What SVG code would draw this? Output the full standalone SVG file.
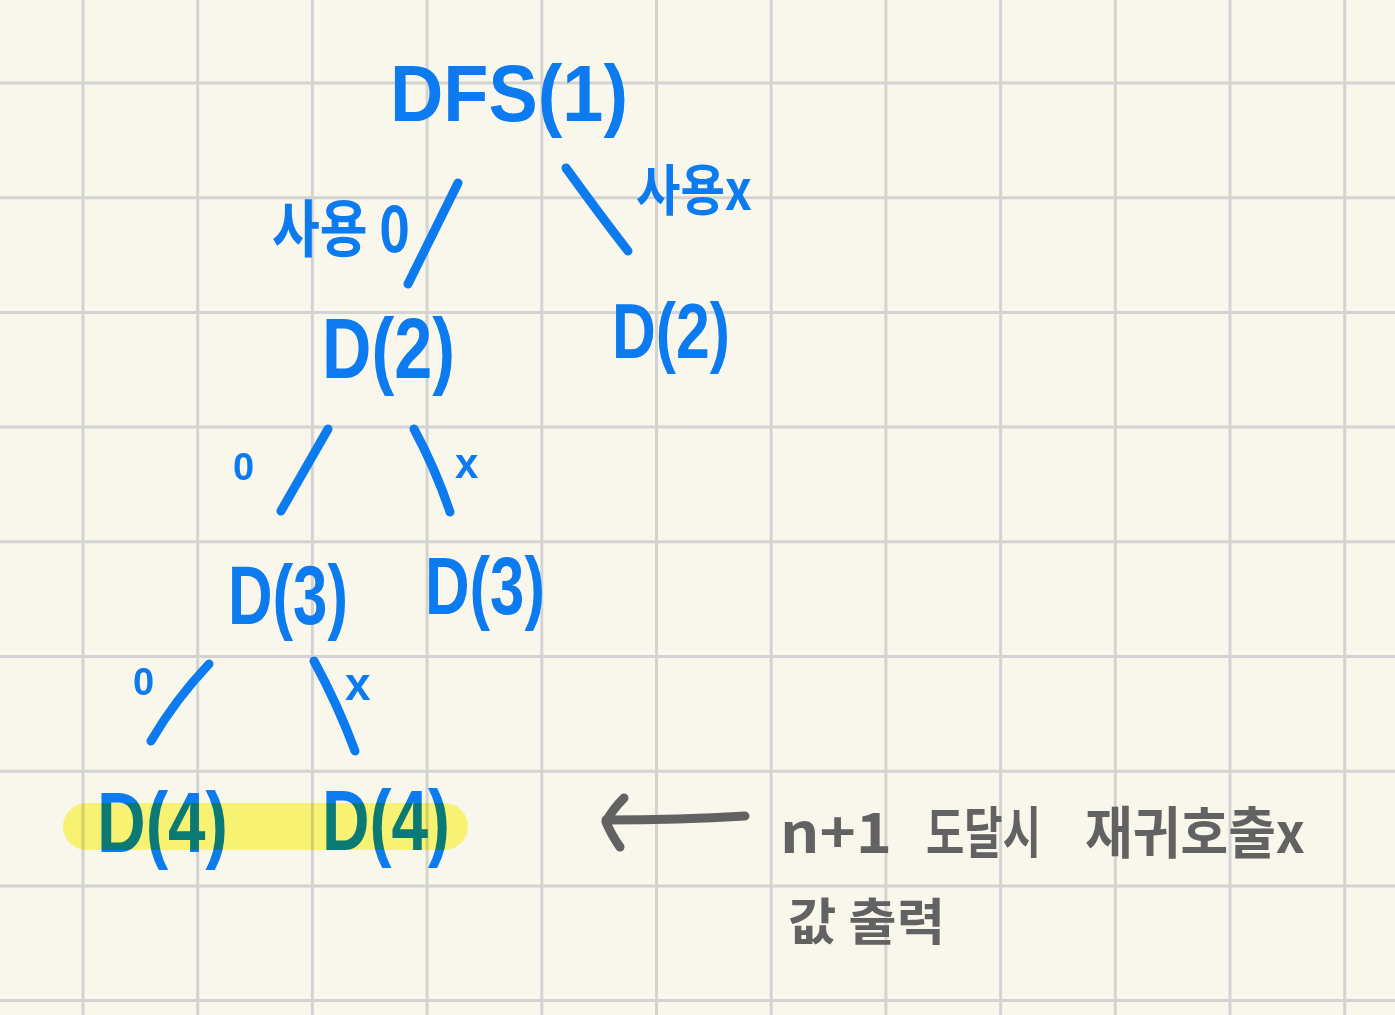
<svg xmlns="http://www.w3.org/2000/svg" width="1395" height="1015" viewBox="0 0 1395 1015">
<style>
.grid line{stroke:#d3d3d3;stroke-width:3}
.ink{fill:#0b7bef;font-family:"Liberation Sans","Noto Sans CJK KR",sans-serif;font-weight:700}
.kr{font-family:"Noto Sans CJK KR","Noto Sans",sans-serif;font-weight:700}
.edge{stroke:#0b7bef;stroke-width:9;stroke-linecap:round;fill:none}
.gray{fill:#626262;font-family:"Noto Sans CJK KR","Liberation Sans",sans-serif;font-weight:700}
.garrow{stroke:#626262;stroke-width:9;stroke-linecap:round;stroke-linejoin:round;fill:none}
.hl{fill:#fdfa7c;mix-blend-mode:multiply}
</style>
<rect width="1395" height="1015" fill="#f9f7eb"/>
<g class="grid">
<line x1="83" y1="0" x2="83" y2="1015"/><line x1="197.7" y1="0" x2="197.7" y2="1015"/><line x1="312.4" y1="0" x2="312.4" y2="1015"/><line x1="427.1" y1="0" x2="427.1" y2="1015"/><line x1="541.8" y1="0" x2="541.8" y2="1015"/><line x1="656.5" y1="0" x2="656.5" y2="1015"/><line x1="771.2" y1="0" x2="771.2" y2="1015"/><line x1="885.9" y1="0" x2="885.9" y2="1015"/><line x1="1000.6" y1="0" x2="1000.6" y2="1015"/><line x1="1115.3" y1="0" x2="1115.3" y2="1015"/><line x1="1230" y1="0" x2="1230" y2="1015"/><line x1="1344.7" y1="0" x2="1344.7" y2="1015"/>
<line x1="0" y1="83" x2="1395" y2="83"/><line x1="0" y1="197.7" x2="1395" y2="197.7"/><line x1="0" y1="312.4" x2="1395" y2="312.4"/><line x1="0" y1="427.1" x2="1395" y2="427.1"/><line x1="0" y1="541.8" x2="1395" y2="541.8"/><line x1="0" y1="656.5" x2="1395" y2="656.5"/><line x1="0" y1="771.2" x2="1395" y2="771.2"/><line x1="0" y1="885.9" x2="1395" y2="885.9"/><line x1="0" y1="1000.6" x2="1395" y2="1000.6"/>
</g>
<g id="connectors">
<path class="edge" d="M458 183 L408 284"/>
<path class="edge" d="M566 168 Q600 215 628 251"/>
<path class="edge" d="M328 429 L281 511"/>
<path class="edge" d="M414 429 Q436 470 450 512"/>
<path class="edge" d="M209 664 Q175 700 151 741"/>
<path class="edge" d="M314 661 Q338 705 355 751"/>
<text class="ink kr" x="272" y="252" font-size="62" textLength="138" lengthAdjust="spacingAndGlyphs">사용 0</text>
<text class="ink kr" x="636" y="210" font-size="55" textLength="116" lengthAdjust="spacingAndGlyphs">사용x</text>
<text class="ink" x="233" y="480" font-size="38">0</text>
<text class="ink" x="455" y="478" font-size="42">x</text>
<text class="ink" x="133" y="695" font-size="38">0</text>
<text class="ink" x="345" y="700" font-size="46">x</text>
</g>
<g id="node-dfs1"><text class="ink" x="390" y="121" font-size="80" textLength="238" lengthAdjust="spacingAndGlyphs">DFS(1)</text></g>
<g id="node-d2-left"><text class="ink" x="322" y="378" font-size="86" textLength="133" lengthAdjust="spacingAndGlyphs">D(2)</text></g>
<g id="node-d2-right"><text class="ink" x="612" y="358" font-size="78" textLength="118" lengthAdjust="spacingAndGlyphs">D(2)</text></g>
<g id="node-d3-left"><text class="ink" x="228" y="624" font-size="84" textLength="120" lengthAdjust="spacingAndGlyphs">D(3)</text></g>
<g id="node-d3-right"><text class="ink" x="425" y="614" font-size="82" textLength="120" lengthAdjust="spacingAndGlyphs">D(3)</text></g>
<g id="node-d4-left"><text class="ink" x="97" y="852" font-size="86" textLength="131" lengthAdjust="spacingAndGlyphs">D(4)</text></g>
<g id="node-d4-right"><text class="ink" x="322" y="850" font-size="86" textLength="128" lengthAdjust="spacingAndGlyphs">D(4)</text></g>
<rect class="hl" x="63" y="803" width="405" height="47" rx="23.5"/>
<g id="note">
<path class="garrow" d="M745 816 Q680 820 606 820"/>
<path class="garrow" d="M624 798 Q612 810 606 822 Q612 836 620 847"/>
<text class="gray" y="853" font-size="56"><tspan x="780" textLength="112" lengthAdjust="spacingAndGlyphs">n+1</tspan><tspan x="926" textLength="115" lengthAdjust="spacingAndGlyphs">도달시</tspan><tspan x="1085" textLength="220" lengthAdjust="spacingAndGlyphs">재귀호출x</tspan></text>
<text class="gray" x="788" y="940" font-size="50" textLength="157" lengthAdjust="spacingAndGlyphs">값 출력</text>
</g>
</svg>
